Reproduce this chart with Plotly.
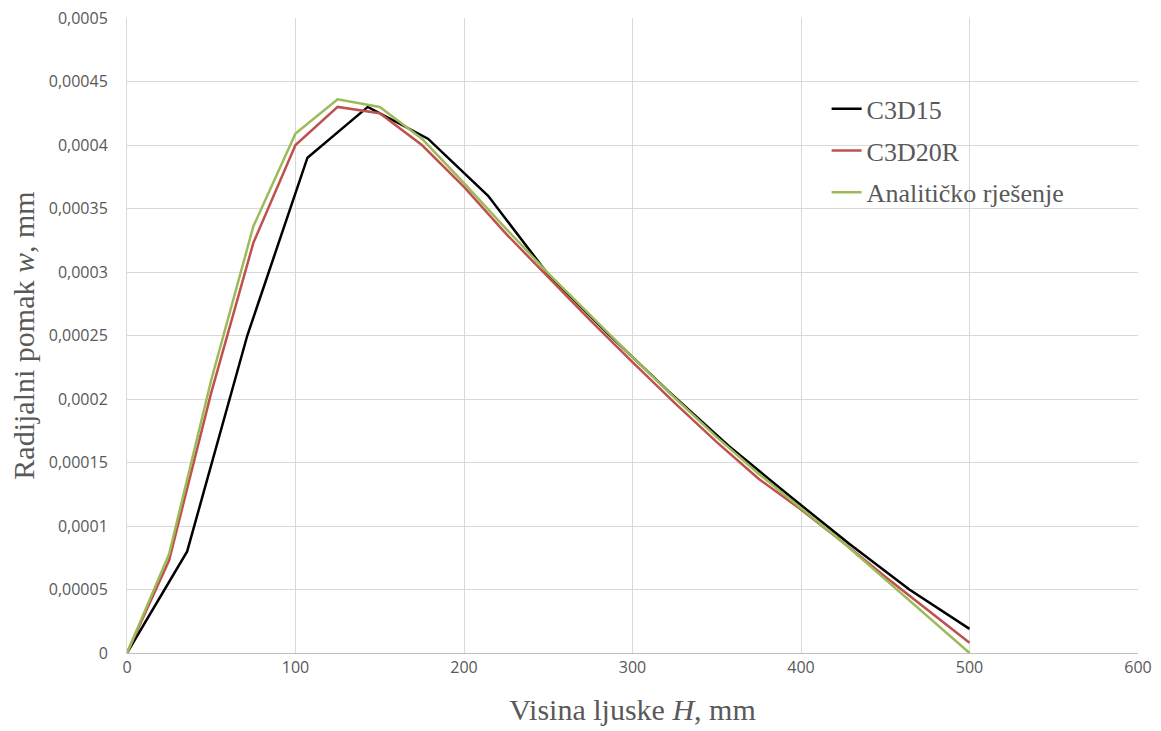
import plotly.graph_objects as go

# C3D15 mesh nodes
x_c3d15 = [0, 35.7, 71.4, 107.1, 142.9, 178.6, 214.3, 250, 285.7, 321.4, 357.1, 392.9, 428.6, 464.3, 500]
y_c3d15 = [0, 0.00008, 0.00025, 0.00039, 0.00043, 0.000405, 0.00036, 0.000298, 0.000251, 0.000206,
           0.000163, 0.000124, 0.000086, 0.00005, 0.000019]

x_fine = [0, 25, 50, 75, 100, 125, 150, 175, 200, 225, 250, 275, 300, 325, 350, 375, 400, 425, 450, 475, 500]
y_c3d20r = [0, 0.000073, 0.000205, 0.000323, 0.0004, 0.00043, 0.000425, 0.0004, 0.000367, 0.00033,
            0.000296, 0.000262, 0.000229, 0.000197, 0.000166, 0.000137, 0.000113, 0.000087, 0.00006,
            0.000034, 0.000008]
y_anal = [0, 0.000078, 0.000215, 0.000336, 0.000409, 0.000436, 0.00043, 0.000405, 0.00037, 0.000334,
          0.000299, 0.000266, 0.000233, 0.000201, 0.00017, 0.000141, 0.000114, 0.000087, 0.000058,
          0.000029, 0]

x_ticks = [0, 100, 200, 300, 400, 500, 600]
y_ticks = [0, 0.00005, 0.0001, 0.00015, 0.0002, 0.00025, 0.0003, 0.00035, 0.0004, 0.00045, 0.0005]
y_tick_text = ["0", "0,00005", "0,0001", "0,00015", "0,0002", "0,00025", "0,0003", "0,00035",
               "0,0004", "0,00045", "0,0005"]

fig = go.Figure()
series = [
    ("C3D15", x_c3d15, y_c3d15, "#000000"),
    ("C3D20R", x_fine, y_c3d20r, "#c0504d"),
    ("Analitičko rješenje", x_fine, y_anal, "#9bbb59"),
]
for name, xs, ys, col in series:
    fig.add_trace(go.Scatter(x=xs, y=ys, mode="lines", name=name, legendgroup=name,
                             line=dict(color=col, width=2.5)))

grid = "#d9d9d9"
fig.update_layout(
    width=1161, height=731,
    paper_bgcolor="white", plot_bgcolor="white",
    margin=dict(l=127, r=23, t=18, b=78, autoexpand=False),
    showlegend=True,
    legend=dict(x=0.692, y=0.894, xanchor="left", yanchor="top",
                font=dict(family="Liberation Serif", size=26, color="#595959"),
                bgcolor="rgba(0,0,0,0)", tracegroupgap=5, traceorder="grouped"),
    xaxis=dict(range=[0, 600], tickvals=x_ticks, ticktext=[str(v) for v in x_ticks],
               showgrid=True, gridcolor=grid, gridwidth=1, zeroline=False,
               showline=True, linecolor="#bfbfbf", linewidth=1, ticks="",
               tickfont=dict(family="Open Sans", size=16, color="#595959"),
               title=dict(text="Visina ljuske <i>H</i>, mm",
                          font=dict(family="Liberation Serif", size=30, color="#595959"),
                          standoff=21),
               automargin=False),
    yaxis=dict(range=[0, 0.0005], tickvals=y_ticks, ticktext=y_tick_text,
               showgrid=True, gridcolor=grid, gridwidth=1, zeroline=False,
               showline=True, linecolor="#d9d9d9", linewidth=1, ticks="",
               ticklabelstandoff=15,
               tickfont=dict(family="Open Sans", size=16, color="#595959"),
               title=dict(text="Radijalni pomak <i>w</i>, mm",
                          font=dict(family="Liberation Serif", size=30, color="#595959"),
                          standoff=5),
               automargin=False),
)

fig.write_html("out.html")
